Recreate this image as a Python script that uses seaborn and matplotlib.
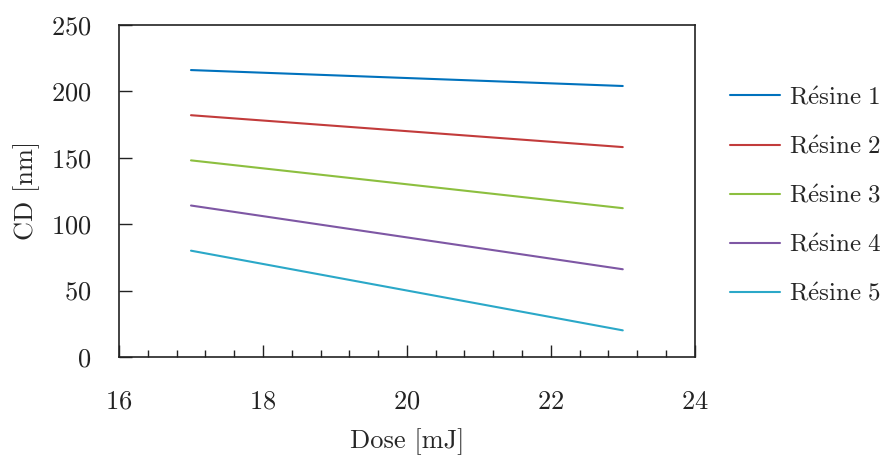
import numpy as np
import pandas as pd
import seaborn as sns
import matplotlib.pyplot as plt
from matplotlib.ticker import AutoMinorLocator

# values
dose = [17, 23]
resine_1 = [216, 204]
resine_2 = [182, 158]
resine_3 = [148, 112]
resine_4 = [114, 66]
resine_5 = [80, 20]
labels = ['Résine 1', 'Résine 2', 'Résine 3', 'Résine 4', 'Résine 5']
colors = ['#0072BD', '#C23B3B', '#8CBF3F', '#7E57A4', '#2BA8C8']

df = pd.DataFrame({
    'Dose': dose * 5,
    'CD': resine_1 + resine_2 + resine_3 + resine_4 + resine_5,
    'serie': [l for l in labels for _ in dose],
})

sns.set_theme(style='white')
plt.rcParams['font.family'] = ['cmr10', 'DejaVu Serif']
plt.rcParams['mathtext.fontset'] = 'cm'
plt.rcParams['axes.formatter.use_mathtext'] = True
plt.rcParams['axes.unicode_minus'] = False

fig = plt.figure(figsize=(8.85, 4.57), dpi=100)
ax = fig.add_axes([0.1345, 0.219, 0.6505, 0.7265])

sns.lineplot(data=df, x='Dose', y='CD', hue='serie', palette=colors, ax=ax, linewidth=1.5)

ax.set_xlim(16, 24)
ax.set_ylim(0, 250)
ax.set_xticks([16, 18, 20, 22, 24])
ax.set_yticks([0, 50, 100, 150, 200, 250])
ax.xaxis.set_minor_locator(AutoMinorLocator(5))
ax.tick_params(bottom=True, left=True, top=False, right=False)
ax.tick_params(axis='both', which='major', direction='in', length=9, width=1,
               labelsize=19, colors='#222222')
ax.tick_params(axis='x', which='major', pad=24)
ax.tick_params(axis='y', which='major', pad=20)
ax.tick_params(axis='x', which='minor', bottom=True, direction='in', length=5, width=1, colors='#222222')
for s in ax.spines.values():
    s.set_color('#222222')
    s.set_linewidth(1.2)

ax.set_xlabel('Dose [mJ]', fontsize=19, labelpad=10)
ax.set_ylabel('CD [nm]', fontsize=19, labelpad=8)

# legend labels rendered in Computer Modern with the accent
handles, _ = ax.get_legend_handles_labels()
tex_labels = [r'$\mathrm{R\acute{e}sine\ %s}$' % l.split()[-1] for l in labels]
ax.legend(handles, tex_labels, loc='center left', bbox_to_anchor=(1.022, 0.485), frameon=False,
          fontsize=18, handlelength=2.0, labelspacing=1.05, handletextpad=0.35)

fig.savefig('out.png', dpi=100)
